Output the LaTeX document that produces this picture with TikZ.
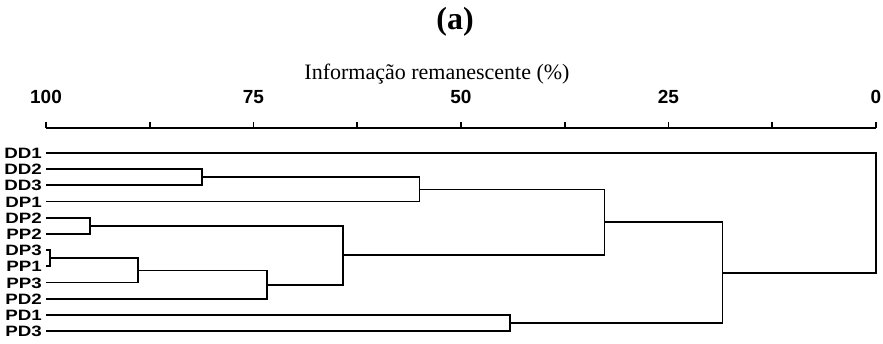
\documentclass[tikz,border=0pt]{standalone}
\usepackage{fontspec}
\setmainfont{Liberation Serif}
\setsansfont{Liberation Sans}
\newfontfamily\leaffont{Liberation Sans}[FakeStretch=1.25]
\usepackage{xcolor}
\usepackage{tikz}
\definecolor{ink}{HTML}{000000}

\begin{document}
\begin{tikzpicture}[x=-8.3pt, y=-16.2pt,
    branch/.style={ink, line width=1.8pt},
    leaf/.style={anchor=east, inner xsep=4pt, inner ysep=0pt, text height=11pt, text depth=0pt,
      font=\leaffont\bfseries\fontsize{15}{15}\selectfont},
    ticklabel/.style={anchor=base, font=\sffamily\bfseries\fontsize{19}{19}\selectfont}]
      \pgfmathsetmacro{\ax}{-1.543} % height of the axis (in rows)
      \useasboundingbox (105.542,-9.444) rectangle (-0.843,11.790);
      % Axis
      \draw[branch] (100,\ax) -- (0,\ax);
      \foreach \v in {0,12.5,...,100}
        \draw[branch] (\v,\ax) -- ++(0,6pt);
      \foreach \v in {0,25,50,75,100}
        \node[ticklabel] at (\v,-3.025) {\v};
      \node[anchor=base, font=\fontsize{22}{22}\selectfont] at (52.89,-4.506) {Informação remanescente (\%)};
      \node[anchor=base, font=\bfseries\fontsize{32}{32}\selectfont] at (50.72,-7.654) {(a)};
      % Leaves
      \foreach \name [count=\i from 0] in {DD1,DD2,DD3,DP1,DP2,PP2,DP3,PP1,PP3,PD2,PD1,PD3}
        \node[leaf] (\name) at (100,\i) {\name};
      % Merge points: (remaining information, mean row of the two children)
      \coordinate (DD23) at (81.2,1.5);
      \coordinate (DDP)  at (55.0,2.25);
      \coordinate (DPP2) at (94.7,4.5);
      \coordinate (DPP1) at (99.5,6.5);
      \coordinate (PP13) at (88.9,7.25);
      \coordinate (PPD)  at (73.4,8.125);
      \coordinate (PX)   at (64.2,6.3125);
      \coordinate (UP)   at (32.7,4.281);
      \coordinate (PD13) at (44.1,10.5);
      \coordinate (LOW)  at (18.5,7.391);
      \coordinate (ROOT) at (0,3.695);
      % Branches
      \draw[branch] (DD2.east) -| (DD23) |- (DD3.east);
      \draw[branch] (DD23) -| (DDP) |- (DP1.east);
      \draw[branch] (DP2.east) -| (DPP2) |- (PP2.east);
      \draw[branch] (DP3.east) -| (DPP1) |- (PP1.east);
      \draw[branch] (DPP1) -| (PP13) |- (PP3.east);
      \draw[branch] (PP13) -| (PPD) |- (PD2.east);
      \draw[branch] (DPP2) -| (PX) |- (PPD);
      \draw[branch] (DDP) -| (UP) |- (PX);
      \draw[branch] (PD1.east) -| (PD13) |- (PD3.east);
      \draw[branch] (UP) -| (LOW) |- (PD13);
      \draw[branch] (DD1.east) -| (ROOT) |- (LOW);
    \end{tikzpicture}
\end{document}
